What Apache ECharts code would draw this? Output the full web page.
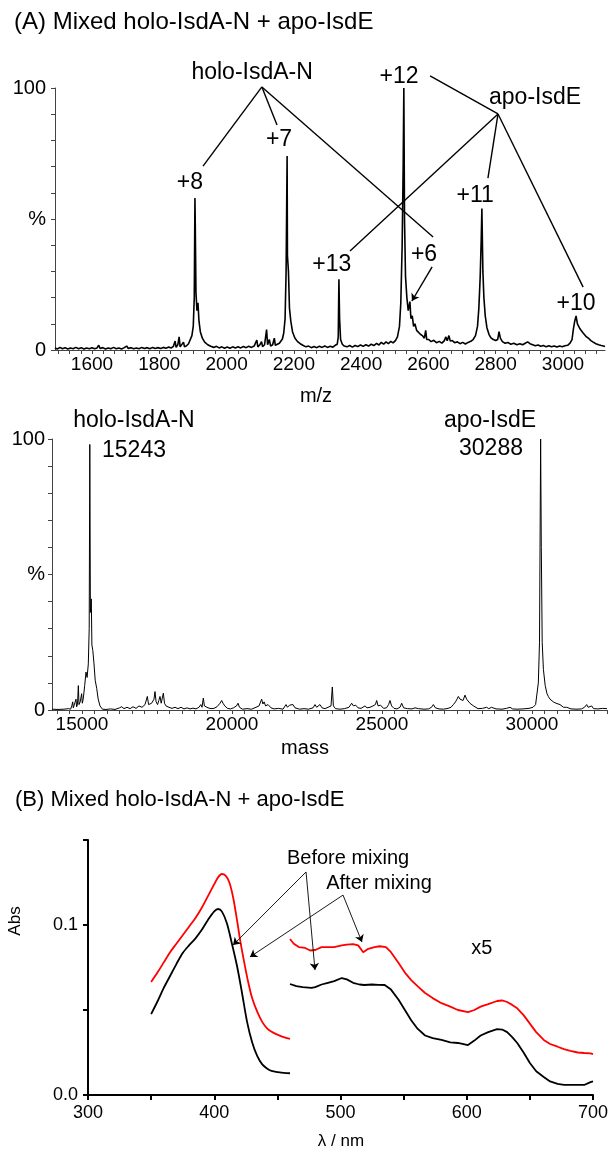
<!DOCTYPE html>
<html><head><meta charset="utf-8">
<script src="https://cdn.jsdelivr.net/npm/echarts@6/dist/echarts.min.js"></script>
<style>html,body{margin:0;padding:0;background:#fff}#c{width:611px;height:1149px}</style>
</head><body><div id="c"></div>
<script>
// ---------- Panel A (top): m/z spectrum ----------
const mzSpectrum = [[1490,0.8],[1497,0.4],[1505,1.0],[1512,0.5],[1520,0.9],[1528,0.4],[1536,0.8],[1544,0.5],[1552,1.0],[1560,0.5],[1568,0.9],[1576,0.4],[1584,0.8],[1592,0.5],[1600,0.9],[1608,0.5],[1615,0.8],[1620,1.8],[1624,0.6],[1632,0.9],[1640,0.4],[1648,0.8],[1656,0.5],[1664,1.0],[1672,0.5],[1680,0.8],[1688,0.4],[1696,0.9],[1703,1.5],[1708,0.6],[1716,0.9],[1724,0.5],[1732,0.8],[1740,0.5],[1748,1.0],[1756,0.6],[1764,0.9],[1772,0.5],[1780,1.0],[1788,0.6],[1796,0.9],[1804,0.6],[1812,1.0],[1820,0.7],[1828,1.1],[1836,0.8],[1842,1.4],[1847,3.4],[1850,1.0],[1855,2.0],[1859,5.0],[1862,1.2],[1867,1.6],[1872,3.0],[1875,1.2],[1881,1.6],[1887,2.4],[1892,3.0],[1897,5.5],[1901,9],[1904,20],[1906,58],[1907,48],[1909,22],[1912,15],[1915,18],[1918,11],[1922,7],[1928,4.5],[1935,3],[1944,2],[1953,1.4],[1962,1.0],[1970,1.4],[1978,0.8],[1986,1.2],[1994,0.7],[2002,1.1],[2010,0.7],[2018,1.2],[2026,0.8],[2034,1.2],[2042,0.8],[2050,1.3],[2058,0.9],[2066,1.4],[2074,1.0],[2082,1.5],[2087,1.0],[2090,3.8],[2093,1.2],[2099,2.0],[2104,3.2],[2107,1.3],[2113,2.0],[2119,7.8],[2122,2.0],[2127,4.0],[2131,1.5],[2137,2.0],[2142,4.5],[2145,1.8],[2151,2.2],[2157,2.6],[2162,3.0],[2166,4.2],[2170,6.5],[2174,12],[2177,30],[2180,74],[2181,36],[2184,30],[2187,16],[2191,11],[2196,7],[2203,4.6],[2211,3.2],[2219,2.4],[2228,1.7],[2236,1.2],[2244,1.5],[2252,0.9],[2260,1.3],[2268,0.9],[2276,1.4],[2284,1.0],[2292,1.5],[2300,1.0],[2308,1.4],[2316,1.1],[2323,1.8],[2329,2.2],[2332,5],[2334,27],[2336,12],[2339,4],[2344,2.2],[2350,1.5],[2358,1.2],[2366,1.7],[2374,1.1],[2382,1.7],[2390,1.3],[2398,1.9],[2406,1.4],[2414,2.0],[2422,1.5],[2430,2.2],[2438,1.7],[2446,2.5],[2453,1.9],[2460,2.9],[2467,2.2],[2474,3.1],[2481,2.4],[2488,3.3],[2495,2.7],[2502,3.6],[2508,5],[2514,9],[2518,18],[2522,40],[2525,70],[2527,100],[2529,50],[2532,28],[2536,20],[2540,15],[2543,17],[2545,18.5],[2548,12],[2552,13],[2556,9],[2560,10],[2565,7.5],[2570,8],[2576,6],[2582,5.5],[2588,4.5],[2592,7.5],[2595,4],[2601,4],[2608,3.2],[2616,3.7],[2624,2.8],[2632,3.3],[2640,2.6],[2647,3.5],[2652,5],[2656,3.5],[2661,5.5],[2665,3.4],[2671,3.6],[2678,2.8],[2686,3.1],[2694,2.4],[2702,2.9],[2710,2.3],[2718,2.9],[2726,3.3],[2733,4],[2740,5.5],[2746,9],[2750,16],[2754,28],[2757,42],[2759,54],[2762,30],[2765,20],[2769,13],[2774,8.5],[2780,6],[2786,4.6],[2793,4],[2800,3.6],[2806,4],[2810,7],[2814,4.5],[2820,3.2],[2828,2.6],[2836,2.9],[2845,2.2],[2854,2.6],[2863,2.0],[2872,2.4],[2880,2.0],[2888,2.6],[2895,3.1],[2902,2.4],[2910,2.0],[2918,1.6],[2926,1.9],[2934,1.4],[2942,1.7],[2950,1.2],[2958,1.6],[2966,1.2],[2974,1.5],[2982,1.1],[2990,1.5],[2998,1.2],[3006,1.6],[3014,1.8],[3021,2.6],[3027,4],[3031,8],[3035,11],[3039,13],[3043,10],[3047,10.5],[3051,8],[3055,8.5],[3060,6.5],[3065,7],[3070,5],[3076,4.5],[3083,3.6],[3090,3],[3098,2.4],[3106,2.0],[3114,1.7],[3120,1.5],[3125,1.3]];
const mzTickLabels = [1600,1800,2000,2200,2400,2600,2800,3000];
const mzLabels = [
  ['holo-IsdA-N',[2076,105.7]],['+8',[1891,63.7]],['+7',[2156,80.2]],['+12',[2513,104.2]],
  ['apo-IsdE',[2917,96.2]],['+13',[2313,32.4]],['+6',[2587,36.3]],['+11',[2739,58.8]],['+10',[3039,17.6]]
];
const mzLeaders = [
  [[2105,100.4],[1930,70.2],0],[[2105,100.4],[2150,85.9],0],[[2105,100.4],[2614,43.1],0],
  [[2605,104.6],[2807,90.1],0],[[2807,90.1],[2367,37.8],0],[[2807,90.1],[2777,65.6],0],[[2807,90.1],[3060,24.0],0],
  [[2611,31.7],[2551,18.7],1]
];

// ---------- Panel A (middle): deconvoluted mass spectrum ----------
const massSpectrum = [[14000,0.3],[14200,0.2],[14400,0.3],[14550,0.5],[14620,0.3],[14660,1.5],[14690,3],[14710,0.8],[14760,1.5],[14800,4],[14820,1.2],[14850,2],[14878,9],[14900,2],[14940,3],[14989,6],[15010,2.5],[15040,4],[15090,9],[15133,14],[15170,12],[15210,17],[15240,30],[15260,98],[15280,36],[15310,41],[15330,24],[15360,22],[15400,17],[15440,11],[15490,8],[15540,4],[15600,1.5],[15680,0.3],[15800,0.2],[15950,0.4],[16100,0.2],[16250,0.8],[16322,1.2],[16400,0.5],[16500,1],[16600,0.5],[16700,1.2],[16800,0.6],[16900,1.5],[17000,1],[17100,2],[17178,5],[17220,2],[17260,1.5],[17320,2.5],[17400,4],[17433,6.8],[17470,3],[17520,2],[17560,3.5],[17600,5],[17640,2.5],[17680,3],[17711,6.2],[17750,2.5],[17800,1.5],[17900,1],[18000,0.6],[18100,1],[18200,0.5],[18300,1],[18400,0.4],[18500,0.8],[18600,0.4],[18700,0.7],[18800,0.4],[18900,1],[18960,2],[19000,1],[19044,4.4],[19080,1.5],[19120,2],[19200,0.8],[19300,0.5],[19400,0.6],[19500,1.2],[19600,2.5],[19656,3.5],[19700,2.5],[19760,1.5],[19850,0.6],[19950,0.4],[20050,0.8],[20150,1.5],[20200,2.5],[20250,1],[20350,0.3],[20500,0.5],[20650,0.3],[20800,1],[20900,1.5],[20989,4],[21030,2.2],[21070,3],[21120,1.5],[21200,2],[21300,0.8],[21400,0.4],[21550,0.6],[21700,0.3],[21800,2],[21850,1],[21920,1.8],[21980,1.2],[22033,2],[22100,0.8],[22250,0.3],[22400,0.5],[22550,0.3],[22700,0.8],[22767,2],[22820,1],[22880,1.5],[22933,2],[23000,0.8],[23100,0.5],[23200,1],[23300,1.5],[23344,8.5],[23380,1.5],[23450,0.5],[23600,0.3],[23750,0.5],[23900,1],[23989,2.5],[24050,1.5],[24120,1.8],[24200,0.8],[24300,0.6],[24433,1.5],[24500,0.8],[24600,1],[24700,1.5],[24780,2],[24822,3.5],[24870,1.5],[24950,1.8],[25050,0.6],[25150,0.8],[25220,2],[25267,3.5],[25320,1.5],[25400,0.6],[25500,0.4],[25600,1],[25656,2.5],[25720,0.8],[25850,0.5],[26000,0.4],[26100,0.8],[26156,1.5],[26220,0.5],[26400,0.3],[26550,0.4],[26650,1],[26711,2],[26780,0.8],[26900,0.4],[27050,0.3],[27200,0.6],[27300,1],[27378,2],[27450,3],[27500,4],[27544,5],[27600,4],[27656,4.5],[27700,3.5],[27767,5.5],[27820,4],[27878,4],[27930,2.5],[27989,3],[28050,1.5],[28100,1],[28200,0.5],[28350,0.6],[28489,1],[28560,0.5],[28650,1],[28711,0.8],[28800,0.4],[29000,0.3],[29150,0.6],[29267,1],[29350,0.4],[29500,0.3],[29700,0.4],[29900,0.6],[30033,1],[30120,2],[30211,10],[30250,25],[30288,100],[30310,60],[30340,25],[30380,15],[30440,9],[30500,6],[30544,5],[30600,4],[30711,3],[30800,2.5],[30933,2],[31050,1],[31156,1],[31300,0.4],[31500,0.3],[31650,0.4],[31750,1],[31822,2],[31870,1],[31920,1.5],[31989,1.5],[32050,0.5],[32200,0.4],[32350,0.6],[32500,0.5]];
const massTickLabels = [15000,20000,25000,30000];
const massLabels = [
  ['holo-IsdA-N',[16733,106.6]],['15243',[16733,95.8]],['apo-IsdE',[28600,106.6]],['30288',[28633,96.3]]
];

// ---------- Panel B: UV-vis absorbance ----------
const beforeSoret = [[350,0.0476],[355,0.055],[360,0.063],[365,0.070],[370,0.077],[375,0.0835],[380,0.088],[385,0.092],[390,0.097],[395,0.103],[400,0.108],[403,0.1094],[406,0.108],[410,0.101],[414,0.089],[418,0.076],[422,0.060],[426,0.043],[430,0.031],[434,0.023],[438,0.018],[442,0.0155],[446,0.014],[450,0.0135],[455,0.013],[460,0.0128]];
const afterSoret = [[350,0.0665],[355,0.072],[360,0.078],[365,0.084],[370,0.089],[375,0.094],[380,0.099],[385,0.104],[390,0.110],[395,0.117],[400,0.124],[403,0.128],[406,0.130],[409,0.129],[412,0.125],[415,0.116],[418,0.103],[421,0.089],[424,0.077],[427,0.066],[430,0.057],[434,0.049],[438,0.043],[442,0.039],[446,0.037],[450,0.0355],[455,0.034],[460,0.033]];
const beforeVisX5 = [[460,0.0653],[465,0.064],[470,0.0635],[477,0.063],[480,0.0635],[485,0.065],[490,0.066],[495,0.067],[501,0.0688],[505,0.068],[510,0.066],[515,0.065],[519,0.0647],[525,0.065],[530,0.0648],[535,0.0647],[540,0.062],[546,0.056],[551,0.050],[556,0.044],[561,0.039],[567,0.035],[573,0.0335],[580,0.0324],[587,0.031],[593,0.0306],[601,0.0294],[606,0.032],[611,0.035],[617,0.037],[624,0.0388],[628,0.0385],[632,0.037],[636,0.034],[640,0.0306],[645,0.025],[650,0.0188],[655,0.014],[661,0.0106],[666,0.008],[672,0.0065],[677,0.006],[682,0.0059],[688,0.006],[693,0.0059],[698,0.0076],[700,0.008]];
const afterVisX5 = [[460,0.0918],[463,0.089],[467,0.087],[472,0.0865],[476,0.085],[480,0.0853],[485,0.087],[490,0.087],[495,0.087],[501,0.088],[505,0.0885],[510,0.0888],[514,0.088],[518,0.084],[522,0.086],[527,0.087],[531,0.0875],[536,0.087],[540,0.084],[546,0.0776],[551,0.072],[556,0.0676],[561,0.064],[567,0.060],[573,0.057],[580,0.054],[587,0.052],[593,0.050],[601,0.0488],[606,0.050],[611,0.052],[617,0.0535],[624,0.0553],[628,0.0556],[632,0.0547],[636,0.053],[640,0.051],[645,0.047],[650,0.042],[655,0.037],[661,0.0324],[666,0.030],[672,0.0284],[677,0.027],[682,0.026],[688,0.025],[693,0.0247],[698,0.0245],[700,0.024]];
const uvLabels = [['Before mixing',[506,0.1394]],['After mixing',[530.5,0.1247]],['x5',[612,0.0859]]];
const uvArrows = [
  [[472.7,0.1312],[414.9,0.0882],1],[[472.7,0.1312],[479.8,0.0735],1],
  [[502,0.1176],[428.3,0.0812],1],[[502,0.1176],[517,0.090],1]
];

const FONT = '"Liberation Sans", Arial, Helvetica, sans-serif';
const chart = echarts.init(document.getElementById('c'), null, {renderer:'canvas', width:611, height:1149});

function leaderLines(list, width, arrowSize){
  return {
    silent:true, animation:false, symbol:['none','none'],
    label:{show:false}, emphasis:{disabled:true},
    lineStyle:{color:'#000', width:width, type:'solid', opacity:1},
    data: list.map(s => [
      {coord:s[0], symbol:'none'},
      {coord:s[1], symbol:s[2] ? 'arrow' : 'none', symbolSize:arrowSize}
    ])
  };
}
const grayAxis = {color:'#444', width:1};
function pctFormatter(v){ return v===0 ? '0' : (v===50 ? '%' : (v===100 ? '100' : '')); }
const plain = v => String(v);

const mzTicks = []; for (let i=0;i<=48;i++) mzTicks.push(1500 + i*100/3);
const massTicks = []; for (let k=-2;k<=42;k++) massTicks.push(15000 + k*1250/3);

const hiddenAxis = {show:false, axisLine:{show:false}, axisTick:{show:false}, axisLabel:{show:false}, splitLine:{show:false}};

const option = {
  animation:false,
  backgroundColor:'#fff',
  textStyle:{fontFamily:FONT},
  grid:[
    {left:55, right:6, top:88, bottom:799, outerBoundsMode:'none', containLabel:false},
    {left:52, right:4, top:439, bottom:439, outerBoundsMode:'none', containLabel:false},
    {left:88, right:18, top:840, bottom:54, outerBoundsMode:'none', containLabel:false},
    // helper coordinate system sharing panel A's scale, extended upward to 110 % for the leader lines
    {left:55, right:6, top:61.8, bottom:799, outerBoundsMode:'none', containLabel:false}
  ],
  xAxis:[
    {gridIndex:0, type:'value', min:1490, max:3125,
     axisLine:{onZero:false, lineStyle:grayAxis},
     axisTick:{show:true, customValues:mzTicks, length:4, lineStyle:grayAxis},
     axisLabel:{customValues:mzTickLabels, color:'#000', fontSize:19, margin:5, fontFamily:FONT, formatter:plain},
     splitLine:{show:false}},
    {gridIndex:1, type:'value', min:14000, max:32500,
     axisLine:{onZero:false, lineStyle:grayAxis},
     axisTick:{show:true, customValues:massTicks, length:4, lineStyle:grayAxis},
     axisLabel:{customValues:massTickLabels, color:'#000', fontSize:19, margin:5, fontFamily:FONT, formatter:plain},
     splitLine:{show:false}},
    {gridIndex:2, type:'value', min:300, max:700, interval:50,
     axisLine:{onZero:false, lineStyle:{color:'#000', width:2}},
     axisTick:{show:true, length:5, lineStyle:{color:'#000', width:2}},
     axisLabel:{color:'#000', fontSize:18, margin:9, fontFamily:FONT, formatter:v => (v % 100 === 0 ? String(v) : '')},
     splitLine:{show:false}},
    Object.assign({gridIndex:3, type:'value', min:1490, max:3125}, hiddenAxis)
  ],
  yAxis:[
    {gridIndex:0, type:'value', min:0, max:100, interval:10,
     axisLine:{show:true, lineStyle:grayAxis},
     axisTick:{show:true, length:4, lineStyle:grayAxis},
     axisLabel:{color:'#000', fontSize:20, margin:9, fontFamily:FONT, formatter:pctFormatter},
     splitLine:{show:false}},
    {gridIndex:1, type:'value', min:0, max:100, interval:10,
     axisLine:{show:true, lineStyle:grayAxis},
     axisTick:{show:true, length:4, lineStyle:grayAxis},
     axisLabel:{color:'#000', fontSize:20, margin:7, fontFamily:FONT, formatter:pctFormatter},
     splitLine:{show:false}},
    {gridIndex:2, type:'value', min:0, max:0.15, interval:0.05,
     axisLine:{show:true, lineStyle:{color:'#000', width:2}},
     axisTick:{show:true, length:5, lineStyle:{color:'#000', width:2}},
     axisLabel:{color:'#000', fontSize:18, margin:10, fontFamily:FONT,
       formatter:v => (Math.abs(v) < 1e-9 ? '0.0' : (Math.abs(v-0.1) < 1e-9 ? '0.1' : ''))},
     splitLine:{show:false}},
    Object.assign({gridIndex:3, type:'value', min:0, max:110}, hiddenAxis)
  ],
  series:[
    {type:'line', xAxisIndex:0, yAxisIndex:0, data:mzSpectrum, showSymbol:false, symbol:'none', clip:false,
     lineStyle:{color:'#000', width:1.6}, silent:true},
    {type:'line', xAxisIndex:3, yAxisIndex:3, data:[], showSymbol:false, symbol:'none', clip:false,
     lineStyle:{opacity:0}, silent:true,
     markLine:leaderLines(mzLeaders, 1.4, 7)},
    {type:'line', xAxisIndex:1, yAxisIndex:1, data:massSpectrum, showSymbol:false, symbol:'none', clip:false,
     lineStyle:{color:'#000', width:1}, silent:true},
    {type:'line', xAxisIndex:2, yAxisIndex:2, data:beforeSoret, showSymbol:false, symbol:'none', clip:false, smooth:0.3,
     lineStyle:{color:'#000', width:1.8}, silent:true,
     markLine:leaderLines(uvArrows, 0.9, 7)},
    {type:'line', xAxisIndex:2, yAxisIndex:2, data:afterSoret, showSymbol:false, symbol:'none', clip:false, smooth:0.3,
     lineStyle:{color:'#ff0000', width:1.8}, silent:true},
    {type:'line', xAxisIndex:2, yAxisIndex:2, data:beforeVisX5, showSymbol:false, symbol:'none', clip:false,
     lineStyle:{color:'#000', width:1.8}, silent:true},
    {type:'line', xAxisIndex:2, yAxisIndex:2, data:afterVisX5, showSymbol:false, symbol:'none', clip:false,
     lineStyle:{color:'#ff0000', width:1.8}, silent:true}
  ]
};
chart.setOption(option);

const graphics = [];
function txt(x, y, text, size, extra){
  graphics.push(Object.assign({type:'text', x:x, y:y, silent:true,
    style:{text:text, font:size+'px '+FONT, fill:'#000', textAlign:'center', textVerticalAlign:'middle', align:'center', verticalAlign:'middle'}}, extra||{}));
}
function dataTxt(gridIndex, list, size){
  list.forEach(([t, c]) => { const p = chart.convertToPixel({gridIndex:gridIndex}, c); txt(p[0], p[1], t, size); });
}
dataTxt(0, mzLabels, 23);
dataTxt(1, massLabels, 23);
dataTxt(2, uvLabels, 20);
graphics.push({type:'text', x:14, y:22, silent:true, style:{text:'(A) Mixed holo-IsdA-N + apo-IsdE', font:'24px '+FONT, fill:'#000', textAlign:'left', textVerticalAlign:'middle', align:'left', verticalAlign:'middle'}});
graphics.push({type:'text', x:15, y:800, silent:true, style:{text:'(B) Mixed holo-IsdA-N + apo-IsdE', font:'22px '+FONT, fill:'#000', textAlign:'left', textVerticalAlign:'middle', align:'left', verticalAlign:'middle'}});
txt(316, 396, 'm/z', 20);
txt(305, 748, 'mass', 20);
txt(341, 1141, 'λ / nm', 17);
txt(15, 921, 'Abs', 17, {rotation:Math.PI/2});
chart.setOption({graphic:graphics});
</script></body></html>
